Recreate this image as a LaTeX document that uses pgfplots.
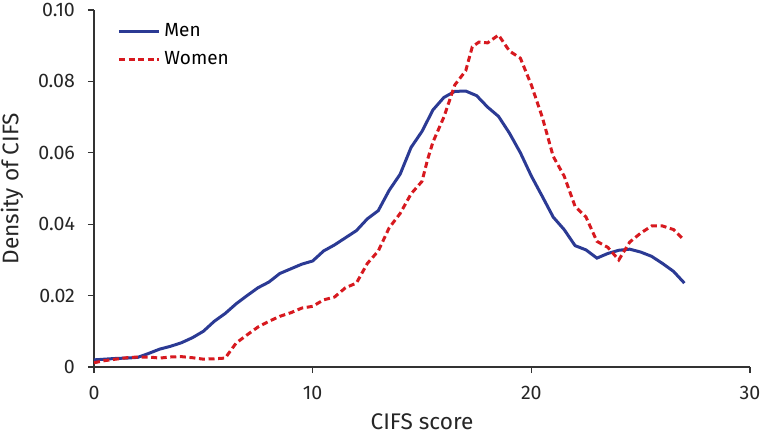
\documentclass[border=0pt]{standalone}
\usepackage{pgfplots}
\pgfplotsset{compat=1.18}
\usepackage{fontspec}
\setmainfont{Fira Sans}
\definecolor{menblue}{HTML}{2B3A94}
\definecolor{womenred}{HTML}{D7191F}
\begin{document}
\begin{tikzpicture}
\useasboundingbox (-47pt,-33.5pt) rectangle (333pt,183.5pt);
\begin{axis}[
  scale only axis,
  width=328pt, height=178.5pt,
  xmin=0, xmax=30, ymin=0, ymax=0.10,
  axis lines*=left,
  axis line style={-, black!80, line width=0.6pt},
  xtick={0,10,20,30},
  ytick={0,0.02,0.04,0.06,0.08,0.10},
  yticklabels={0,0.02,0.04,0.06,0.08,0.10},
  tick align=outside,
  major tick length=3pt,
  tick style={black!80, line width=0.6pt},
  /pgf/number format/assume math mode=true,
  ticklabel style={font=\fontsize{9.8}{11}\selectfont, text=black!85},
  xticklabel style={yshift=-3pt},
  yticklabel style={xshift=-3pt},
  xlabel={CIFS score},
  ylabel={Density of CIFS},
  label style={font=\fontsize{11.3}{13}\selectfont, text=black!85},
  xlabel style={at={(axis description cs:0.5,-0.152)}, anchor=center},
  ylabel style={at={(axis description cs:-0.125,0.5)}, anchor=center},
  legend style={draw=none, fill=none, at={(axis description cs:0.026,0.985)}, anchor=north west, font=\fontsize{9.5}{11}\selectfont, row sep=2pt},
  legend cell align=left,
  legend image code/.code={\draw[#1] (0pt,0pt) -- (20pt,0pt);},
]
\addplot[menblue, line width=1.5pt] coordinates {
(0,0.0020)(0.5,0.0022)(1,0.0024)(1.5,0.0025)(2,0.0027)(2.5,0.0038)(3,0.0050)(3.5,0.0058)(4,0.0068)(4.5,0.0082)(5,0.0100)(5.5,0.0128)(6,0.0150)(6.5,0.0177)(7,0.0200)(7.5,0.0222)(8,0.0238)(8.5,0.0262)(9,0.0275)(9.5,0.0288)(10,0.0297)(10.5,0.0325)(11,0.0342)(11.5,0.0362)(12,0.0382)(12.5,0.0415)(13,0.0438)(13.5,0.0495)(14,0.0540)(14.5,0.0615)(15,0.0660)(15.5,0.0720)(16,0.0755)(16.5,0.0772)(17,0.0773)(17.5,0.0760)(18,0.0728)(18.5,0.0702)(19,0.0655)(19.5,0.0600)(20,0.0535)(20.5,0.0478)(21,0.0420)(21.5,0.0385)(22,0.0340)(22.5,0.0328)(23,0.0305)(23.5,0.0318)(24,0.0327)(24.5,0.0330)(25,0.0322)(25.5,0.0310)(26,0.0290)(26.5,0.0268)(27,0.0235)
};
\addlegendentry{Men}
\addplot[womenred, line width=1.5pt, dash pattern=on 3pt off 1.8pt] coordinates {
(0,0.0012)(0.5,0.0018)(1,0.0022)(1.5,0.0026)(2,0.0028)(2.5,0.0028)(3,0.0025)(3.5,0.0028)(4,0.0029)(4.5,0.0026)(5,0.0022)(5.5,0.0023)(6,0.0025)(6.5,0.0067)(7,0.0090)(7.5,0.0112)(8,0.0128)(8.5,0.0142)(9,0.0152)(9.5,0.0165)(10,0.0170)(10.5,0.0188)(11,0.0196)(11.5,0.0222)(12,0.0235)(12.5,0.0290)(13,0.0325)(13.5,0.0390)(14,0.0430)(14.5,0.0485)(15,0.0520)(15.25,0.0580)(15.5,0.0630)(16,0.0700)(16.5,0.0790)(17,0.0830)(17.3,0.0897)(17.6,0.0910)(18,0.0908)(18.5,0.0930)(19,0.0885)(19.5,0.0865)(20,0.0790)(20.5,0.0700)(21,0.0590)(21.5,0.0535)(22,0.0450)(22.5,0.0420)(23,0.0352)(23.5,0.0335)(24,0.0300)(24.5,0.0350)(25,0.0375)(25.5,0.0395)(26,0.0395)(26.5,0.0385)(27,0.0355)
};
\addlegendentry{Women}
\end{axis}
\end{tikzpicture}
\end{document}
